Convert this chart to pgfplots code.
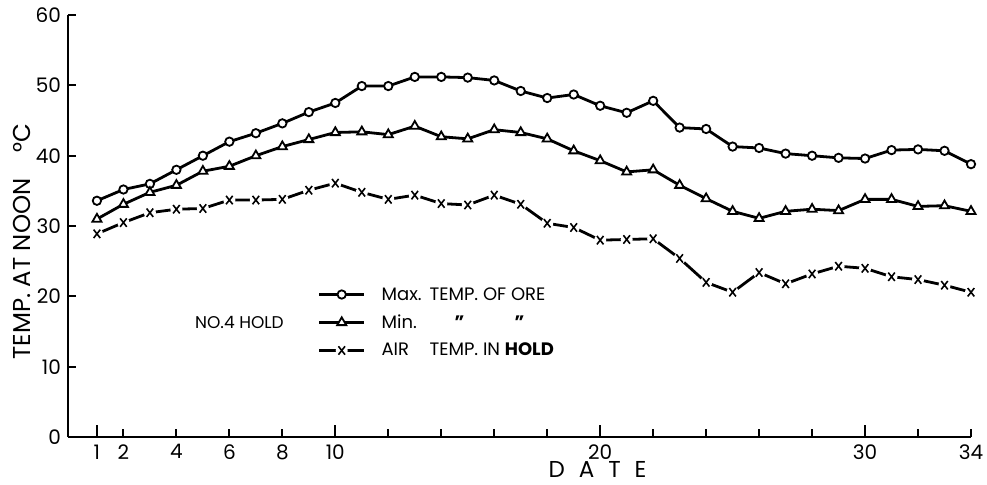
\documentclass[border=0pt]{standalone}
\usepackage{pgfplots}
\pgfplotsset{compat=1.18}
\usepackage{pgfplotstable}
\usepackage{fontspec}
\setmainfont{Poppins}
\usetikzlibrary{plotmarks}

\pgfdeclareplotmark{xgap}{%
  \pgfpathcircle{\pgfpointorigin}{\pgfplotmarksize}%
  \pgfsetfillcolor{white}\pgfusepath{fill}%
  \pgfpathmoveto{\pgfpoint{-0.55\pgfplotmarksize}{-0.7\pgfplotmarksize}}%
  \pgfpathlineto{\pgfpoint{0.55\pgfplotmarksize}{0.7\pgfplotmarksize}}%
  \pgfpathmoveto{\pgfpoint{-0.55\pgfplotmarksize}{0.7\pgfplotmarksize}}%
  \pgfpathlineto{\pgfpoint{0.55\pgfplotmarksize}{-0.7\pgfplotmarksize}}%
  \pgfusepathqstroke
}

\pgfplotstableread{
day maxt mint air
1 33.6 31.0 28.9
2 35.2 33.1 30.5
3 36.0 34.8 31.9
4 38.0 35.8 32.4
5 40.0 37.8 32.5
6 42.0 38.5 33.7
7 43.2 40.0 33.7
8 44.6 41.3 33.8
9 46.2 42.3 35.1
10 47.5 43.3 36.1
11 49.9 43.4 34.8
12 49.9 43.0 33.8
13 51.2 44.2 34.4
14 51.2 42.7 33.2
15 51.1 42.4 33.0
16 50.7 43.7 34.4
17 49.2 43.3 33.1
18 48.2 42.4 30.4
19 48.7 40.7 29.8
20 47.1 39.3 28.0
21 46.1 37.7 28.1
22 47.8 38.0 28.2
23 44.0 35.8 25.4
24 43.8 33.9 22.0
25 41.3 32.1 20.6
26 41.1 31.1 23.4
27 40.3 32.1 21.8
28 40.0 32.4 23.2
29 39.7 32.2 24.3
30 39.6 33.8 24.0
31 40.8 33.8 22.8
32 40.9 32.8 22.4
33 40.7 32.9 21.6
34 38.8 32.1 20.6
}\datatable

\begin{document}
\begin{tikzpicture}
\begin{axis}[
  scale only axis,
  width=451.7pt, height=211.2pt,
  xmin=-0.094, xmax=34, ymin=0, ymax=60,
  axis x line=bottom, axis y line=left,
  axis line style={line width=1pt, -},
  x axis line style={-}, y axis line style={-},
  xtick={1,2,4,6,8,10,12,14,16,18,20,22,24,26,28,30,32,34},
  xticklabels={1,2,4,6,8,10,,,,,20,,,,,30,,34},
  extra x ticks={1,10,20,30},
  extra x tick labels={},
  extra x tick style={major tick length=6pt},
  ytick={0,10,20,30,40,50,60},
  tick align=inside,
  major tick length=4pt,
  tick style={line width=1pt, black},
  ticklabel style={font=\fontsize{10}{11}\selectfont},
  xticklabel style={inner sep=1pt, yshift=-2.5pt},
  /pgf/number format/assume math mode=true,
  clip=false,
  legend image code/.code={\draw[mark repeat=2,mark phase=2,#1] plot coordinates {(0pt,0pt) (11.25pt,0pt) (22.5pt,0pt)};},
  legend style={at={(axis cs:9.34,16.3)}, anchor=west, draw=none, fill=none,
    inner sep=0pt, outer sep=0pt, row sep=6.5pt, column sep=8pt,
    nodes={inner sep=0pt, text height=6.5pt, text depth=1pt, font=\fontsize{9}{10}\selectfont}},
  legend cell align=left,
]
\addplot[black, line width=1.4pt, mark=*, mark size=2.1pt, mark options={fill=white, draw=black, line width=0.9pt}]
  table[x=day, y=maxt]{\datatable};
\addplot[black, line width=1.4pt, mark=triangle*, mark size=2.6pt, mark options={fill=white, draw=black, line width=0.9pt}]
  table[x=day, y=mint]{\datatable};
\addplot[black, line width=1.4pt, mark=xgap, mark size=3pt, mark options={line width=0.8pt}]
  table[x=day, y=air]{\datatable};
\legend{{\makebox[24pt][l]{Max.}TEMP. OF ORE},
        {\makebox[36pt][l]{Min.}\makebox[6pt][c]{\textbf{"}}\hspace{24pt}\makebox[6pt][c]{\textbf{"}}},
        {\makebox[24pt][l]{AIR}TEMP. IN \textbf{HOLD}}}

\node[font=\fontsize{8.5}{10}\selectfont] at (axis cs:6.38,16.3) {NO.4 HOLD};
\node[rotate=90, inner sep=0pt, font=\fontsize{12.2}{14}\selectfont] at (axis cs:-1.83,23.9) {TEMP. AT NOON};
\node[rotate=90, inner sep=0pt, font=\fontsize{12.2}{14}\selectfont] at (axis cs:-1.83,42.5) {°C};
\node[anchor=north, inner sep=0pt, font=\fontsize{11.5}{13}\selectfont] at (axis cs:19.9,-3.41) {D\hspace{7pt}A\hspace{7pt}T\hspace{7pt}E};

\coordinate (bl) at (axis cs:-2.66,-6.68);
\coordinate (tr) at (axis cs:34.604,62.13);
\end{axis}
\pgfresetboundingbox
\useasboundingbox (bl) rectangle (tr);
\end{tikzpicture}
\end{document}
